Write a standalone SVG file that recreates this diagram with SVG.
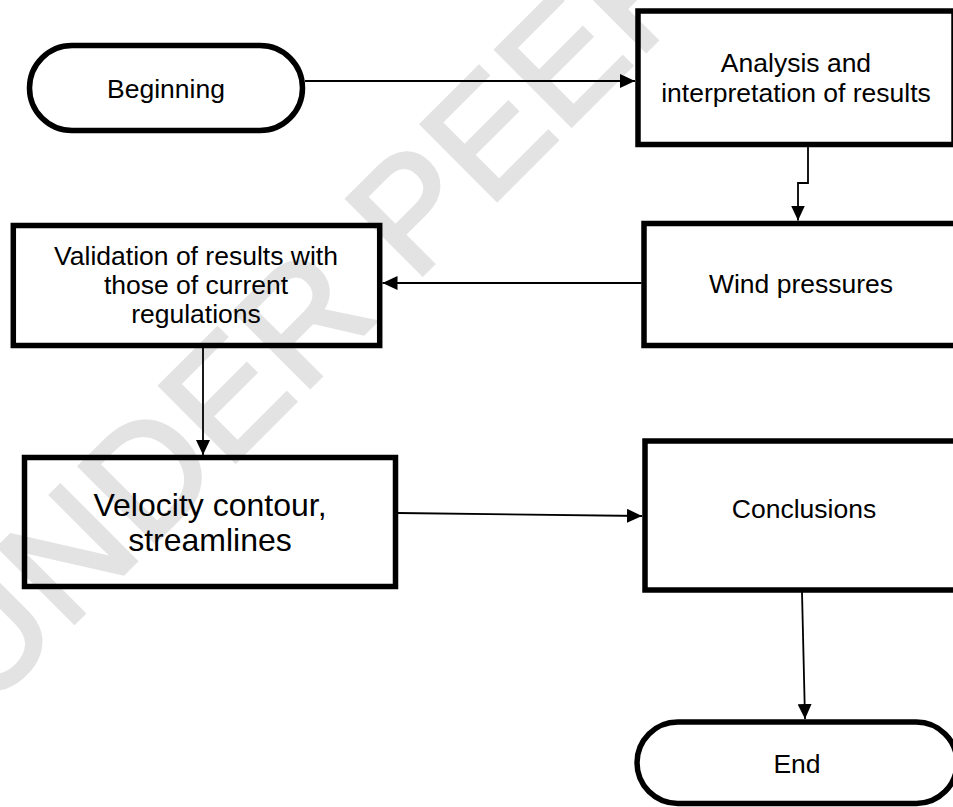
<svg xmlns="http://www.w3.org/2000/svg" width="953" height="807" viewBox="0 0 953 807">
<style>
.bg{fill:#fff}
.wm{fill:#e3e3e3;stroke:#e3e3e3;stroke-width:4;font-family:"Liberation Sans",Arial,sans-serif;font-size:155px;letter-spacing:2px}
.shape{fill:none;stroke:#000;stroke-width:5.5}
.t{font-family:"Liberation Sans",Arial,sans-serif;font-size:26.5px;fill:#000;text-anchor:middle}
.big{font-size:32px}
.conn path{fill:none;stroke:#000;stroke-width:1.8}
</style>
<defs>
<marker id="ah" markerWidth="15" markerHeight="14" refX="15" refY="7" orient="auto" markerUnits="userSpaceOnUse">
<path d="M0,0 L15,7 L0,14 z" fill="#000"/>
</marker>
</defs>
<rect class="bg" x="0" y="0" width="953" height="807"/>
<text class="wm" transform="translate(-15,712) rotate(-45)">UNDER PEER REVIEW</text>
<g class="conn">
<path d="M305,81 H635" marker-end="url(#ah)"/>
<path d="M808,147 V183 H798 V220.5" marker-end="url(#ah)"/>
<path d="M641.5,283 H382.5" marker-end="url(#ah)"/>
<path d="M203,348 V455" marker-end="url(#ah)"/>
<path d="M398,513 L642,516" marker-end="url(#ah)"/>
<path d="M802,592 L805,719" marker-end="url(#ah)"/>
</g>
<g id="beginning">
<rect class="shape" x="29.5" y="45.5" width="273" height="85" rx="42.5"/>
<text class="t" x="166" y="97.5">Beginning</text>
</g>
<g id="analysis">
<rect class="shape" x="638" y="11" width="316" height="133.5"/>
<text class="t" x="796" y="71.5">Analysis and</text>
<text class="t" x="796" y="102">interpretation of results</text>
</g>
<g id="wind">
<rect class="shape" x="644" y="223.5" width="314" height="122"/>
<text class="t" x="801" y="293">Wind pressures</text>
</g>
<g id="validation">
<rect class="shape" x="13.3" y="225.5" width="366.4" height="120"/>
<text class="t" x="196" y="265">Validation of results with</text>
<text class="t" x="196" y="294">those of current</text>
<text class="t" x="196" y="323">regulations</text>
</g>
<g id="velocity">
<rect class="shape" x="24.5" y="457.5" width="371" height="129"/>
<text class="t big" x="210" y="516">Velocity contour,</text>
<text class="t big" x="210" y="551">streamlines</text>
</g>
<g id="conclusions">
<rect class="shape" x="645" y="441" width="320" height="149"/>
<text class="t" x="804" y="518">Conclusions</text>
</g>
<g id="end">
<rect class="shape" x="637" y="722" width="320" height="81.5" rx="40.75"/>
<text class="t" x="797" y="773">End</text>
</g>
</svg>
